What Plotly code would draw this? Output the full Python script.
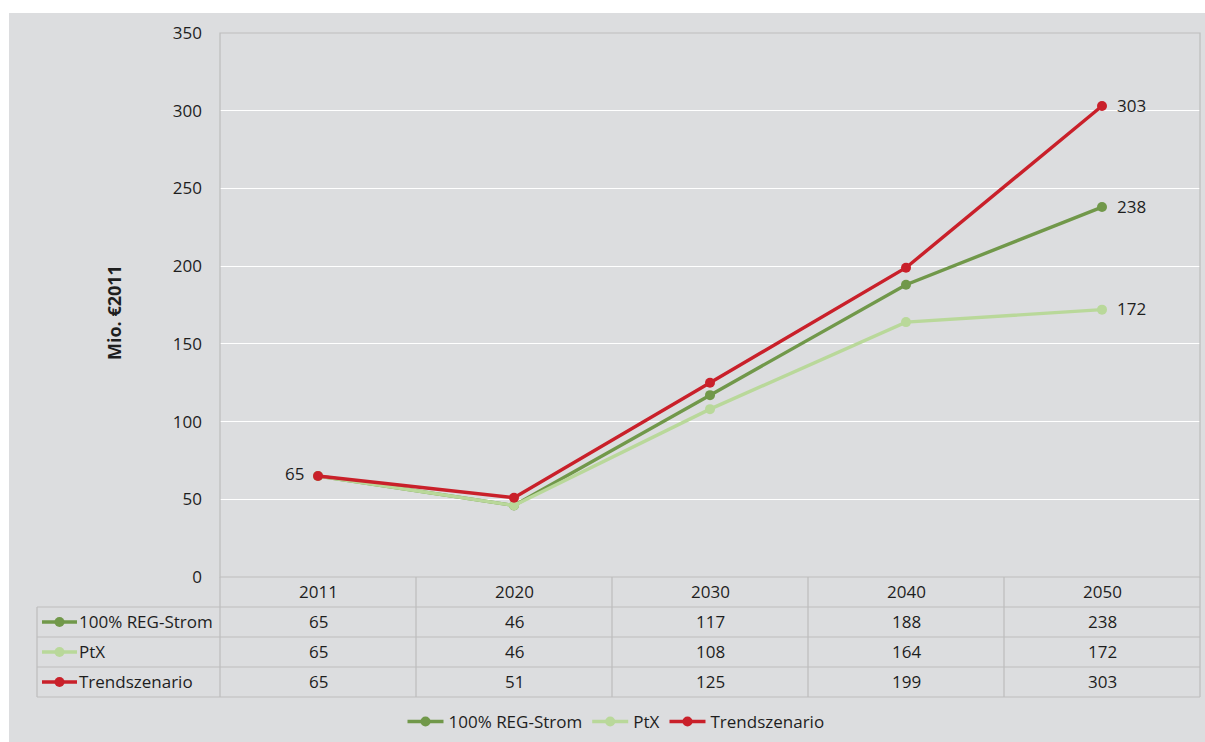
import plotly.graph_objects as go

# Data
years = ["2011", "2020", "2030", "2040", "2050"]
series_names = ["100% REG-Strom", "PtX", "Trendszenario"]
reg_strom = [65, 46, 117, 188, 238]
ptx = [65, 46, 108, 164, 172]
trend = [65, 51, 125, 199, 303]
y_ticks = [0, 50, 100, 150, 200, 250, 300, 350]

colors = ["#71984a", "#b9d89a", "#c9202a"]
values = [reg_strom, ptx, trend]

W, H = 1205, 742
L, R, T, B = 220, 5, 33, 165
PW, PH = W - L - R, H - T - B
FONT = "Open Sans"
FS = 17
TXT = "#1e1e1e"
GRID_LINE = "#bdbdbd"
BG = "#dcdddf"


def px(x):
    return (x - L) / PW


def py(y):
    return (H - B - y) / PH


xidx = list(range(len(years)))

fig = go.Figure()
for name, vals, col in zip(series_names, values, colors):
    fig.add_trace(go.Scatter(
        x=xidx, y=vals, name=name, mode="lines+markers",
        line=dict(color=col, width=3.4),
        marker=dict(color=col, size=10),
    ))

shapes = []
# Grey panel background
shapes.append(dict(type="rect", xref="paper", yref="paper",
                   x0=px(9), x1=px(W + 2), y0=py(13), y1=py(H + 2),
                   fillcolor=BG, line=dict(width=0), layer="below"))
# Plot-area frame
shapes.append(dict(type="rect", xref="paper", yref="paper",
                   x0=px(220), x1=px(1200), y0=py(577), y1=py(33),
                   line=dict(color=GRID_LINE, width=1.2), layer="above"))

# Data table grid
row_tops = [577, 607, 637, 667, 697]
for k in range(len(years) + 1):
    xk = 220 + k * (980 / len(years))
    shapes.append(dict(type="line", xref="paper", yref="paper",
                       x0=px(xk), x1=px(xk), y0=py(577), y1=py(697),
                       line=dict(color=GRID_LINE, width=1.2)))
shapes.append(dict(type="line", xref="paper", yref="paper",
                   x0=px(37), x1=px(37), y0=py(607), y1=py(697),
                   line=dict(color=GRID_LINE, width=1.2)))
for yr in row_tops[1:]:
    shapes.append(dict(type="line", xref="paper", yref="paper",
                       x0=px(37), x1=px(1200), y0=py(yr), y1=py(yr),
                       line=dict(color=GRID_LINE, width=1.2)))

annotations = []
# Year header row
for i, yv in enumerate(years):
    annotations.append(dict(x=i, xref="x", y=py(591), yref="paper",
                            text=yv, showarrow=False, yanchor="middle",
                            font=dict(family=FONT, size=FS, color=TXT)))
# Table rows: legend key + name + values
for r, (name, vals, col) in enumerate(zip(series_names, values, colors)):
    yc = (row_tops[r + 1] + row_tops[r + 2]) / 2
    shapes.append(dict(type="line", xref="paper", yref="paper",
                       x0=px(42), x1=px(77), y0=py(yc), y1=py(yc),
                       line=dict(color=col, width=3.4)))
    shapes.append(dict(type="circle", xref="paper", yref="paper",
                       x0=px(54.5), x1=px(64.5), y0=py(yc + 5), y1=py(yc - 5),
                       fillcolor=col, line=dict(width=0)))
    annotations.append(dict(x=px(77), xref="paper", y=py(yc - 1), yref="paper",
                            text=name, showarrow=False, xanchor="left",
                            yanchor="middle",
                            font=dict(family=FONT, size=FS, color=TXT)))
    for i, v in enumerate(vals):
        annotations.append(dict(x=i, xref="x", y=py(yc - 1), yref="paper",
                                text=str(v), showarrow=False, yanchor="middle",
                                font=dict(family=FONT, size=FS, color=TXT)))

# Point labels
annotations.append(dict(x=0, y=trend[0], xref="x", yref="y",
                        text=str(trend[0]), showarrow=False, xanchor="right",
                        yanchor="middle", xshift=-12, yshift=2,
                        font=dict(family=FONT, size=FS, color=TXT)))
for vals in values:
    annotations.append(dict(x=len(years) - 1, y=vals[-1], xref="x", yref="y",
                            text=str(vals[-1]), showarrow=False, xanchor="left",
                            yanchor="middle", xshift=13, yshift=1,
                            font=dict(family=FONT, size=FS, color=TXT)))

# Axis title
annotations.append(dict(x=px(114), y=py(313), xref="paper", yref="paper",
                        text="<b>Mio. €2011</b>", textangle=-90, showarrow=False,
                        xanchor="center", yanchor="middle",
                        font=dict(family=FONT, size=18, color=TXT)))

fig.update_layout(
    width=W, height=H,
    margin=dict(l=L, r=R, t=T, b=B, autoexpand=False),
    paper_bgcolor="white",
    plot_bgcolor="rgba(0,0,0,0)",
    font=dict(family=FONT, size=FS, color=TXT),
    shapes=shapes,
    annotations=annotations,
    showlegend=True,
    legend=dict(orientation="h", x=px(616), xanchor="center",
                y=py(722), yanchor="middle",
                bgcolor="rgba(0,0,0,0)",
                font=dict(family=FONT, size=FS, color=TXT),
                itemwidth=36, tracegroupgap=0),
    xaxis=dict(range=[-0.5, 4.5], showticklabels=False,
               showgrid=False, zeroline=False, showline=False, ticks=""),
    yaxis=dict(range=[0, 350], tickvals=y_ticks, showgrid=True,
               gridcolor="white", gridwidth=1.2, zeroline=False,
               showline=False, ticks="", ticklabelstandoff=17,
               tickfont=dict(family=FONT, size=FS, color=TXT)),
)

fig.write_html("out.html")
